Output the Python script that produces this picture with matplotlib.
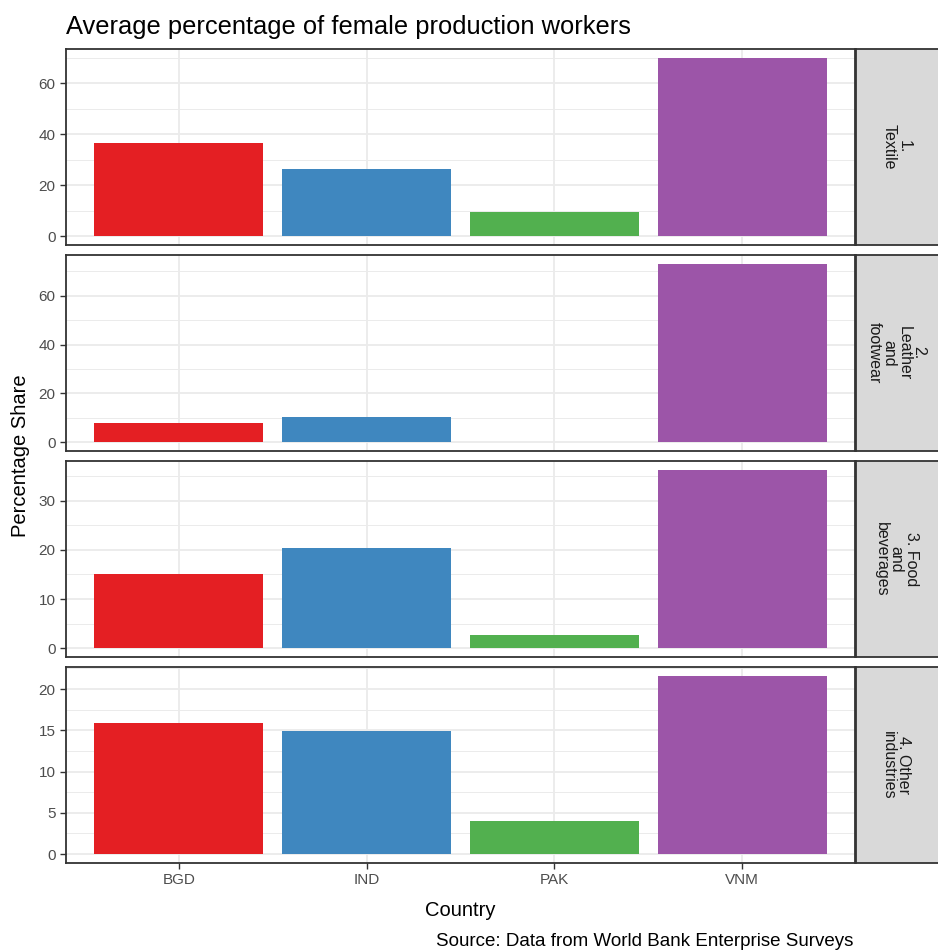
import numpy as np
import matplotlib
matplotlib.use("Agg")
import matplotlib.pyplot as plt
from matplotlib.ticker import MultipleLocator

plt.rcParams['font.family'] = ['Liberation Sans', 'DejaVu Sans']

countries = ["BGD", "IND", "PAK", "VNM"]
industries = ["1.\nTextile", "2.\nLeather\nand\nfootwear", "3. Food\nand\nbeverages", "4. Other\nindustries"]
share_textile = [36.7, 26.4, 9.5, 69.9]
share_leather = [7.8, 10.3, 0.0, 73.1]
share_food = [15.1, 20.3, 2.6, 36.3]
share_other = [15.9, 14.9, 4.0, 21.6]
shares = [share_textile, share_leather, share_food, share_other]
major_steps = [20, 20, 10, 5]

colors = ["#E41F23", "#3F87BF", "#52B04F", "#9C55A8"]

W, H = 938, 952
fig = plt.figure(figsize=(W / 100, H / 100), dpi=100)

def px_axes(x0, y0, x1, y1):
    # pixel box (top-left origin) -> figure axes
    return fig.add_axes([x0 / W, 1 - y1 / H, (x1 - x0) / W, (y1 - y0) / H])

border = "#333333"
left, right = 66, 855
top, bottom, gap = 49, 863, 10
ph = (bottom - top - 3 * gap) / 4

x = np.arange(1, len(countries) + 1)
for i, (vals, step, lab) in enumerate(zip(shares, major_steps, industries)):
    y0 = top + i * (ph + gap)
    ax = px_axes(left, y0, right, y0 + ph)
    ax.bar(x, vals, width=0.9, color=colors, zorder=2)
    vmax = max(vals)
    ax.set_ylim(-0.05 * vmax, 1.05 * vmax)
    ax.set_xlim(0.4, 4.6)
    ax.yaxis.set_major_locator(MultipleLocator(step))
    ax.yaxis.set_minor_locator(MultipleLocator(step / 2))
    ax.set_xticks(x)
    ax.grid(True, which="major", color="#EBEBEB", lw=1.3, zorder=0)
    ax.grid(True, which="minor", axis="y", color="#EBEBEB", lw=0.7, zorder=0)
    ax.set_axisbelow(True)
    for s in ax.spines.values():
        s.set_color(border)
        s.set_linewidth(1.3)
    ax.tick_params(axis="both", which="major", length=4, width=1, color=border,
                   labelcolor="#4D4D4D", labelsize=11)
    ax.tick_params(axis="y", which="minor", length=0)
    if i < 3:
        ax.tick_params(axis="x", length=0, labelbottom=False)
    else:
        ax.set_xticklabels(countries)

    sax = px_axes(right + 1, y0, 940, y0 + ph)
    sax.set_facecolor("#D9D9D9")
    sax.set_xticks([])
    sax.set_yticks([])
    for s in sax.spines.values():
        s.set_color(border)
        s.set_linewidth(1.3)
    sax.text(0.48, 0.5, lab, rotation=270, ha="center", va="center",
             transform=sax.transAxes, fontsize=11.5, color="#1A1A1A",
             linespacing=1.0, multialignment="center")

fig.text(left / W, 1 - 27 / H, "Average percentage of female production workers",
         fontsize=18.4, ha="left", va="center", color="black")
fig.text(20 / W, 1 - 456 / H, "Percentage Share", rotation=90, fontsize=14.5,
         ha="center", va="center")
fig.text((left + right) / 2 / W, 1 - 910 / H, "Country", fontsize=14.5,
         ha="center", va="center")
fig.text(853 / W, 1 - 941 / H, "Source: Data from World Bank Enterprise Surveys",
         fontsize=13.5, ha="right", va="center")

fig.savefig("out.png", dpi=100)
